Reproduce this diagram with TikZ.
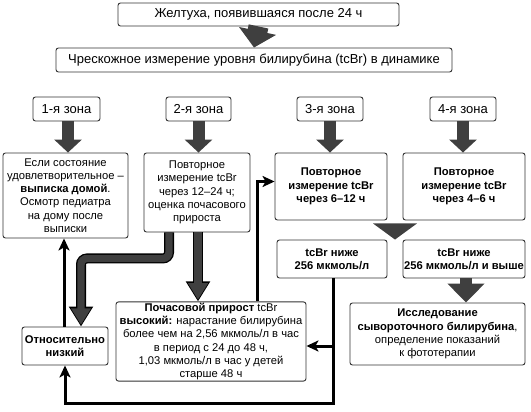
\documentclass[tikz,border=0pt]{standalone}
\usepackage{fontspec}
\setmainfont{Liberation Sans}
\usetikzlibrary{arrows.meta,calc}

\definecolor{arrowgray}{HTML}{3F3F3F}
\definecolor{boxline}{HTML}{333333}

\tikzset{
  box/.style={draw=boxline, line width=0.9pt, rounded corners=2.5pt, fill=white,
    align=center, inner sep=1pt, font=\fontsize{11.2}{13.3}\selectfont},
  bigbox/.style={box, font=\fontsize{13}{15}\selectfont},
  boldbox/.style={box, font=\fontsize{11.2}{13.3}\selectfont\bfseries},
  fatbig/.style={draw=arrowgray, line width=20pt,
    -{Triangle[width=37pt,length=17pt]}},
  fat/.style={draw=arrowgray, line width=12pt,
    -{Triangle[width=27pt,length=13pt]}},
  pipeout/.style={draw=black, line width=10pt, rounded corners=6pt,
    -{Triangle[width=23pt,length=20pt]}},
  pipein/.style={draw=arrowgray, line width=7.4pt, rounded corners=6pt,
    shorten >=1.8pt, -{Triangle[width=19pt,length=16.5pt]}},
  thin/.style={draw=black, line width=3pt,
    -{Stealth[length=12pt,width=11pt,inset=3pt]}}
}

\begin{document}
\begin{tikzpicture}[x=1pt, y=-1pt]
  \useasboundingbox (0,0) rectangle (531,412);

      %% top of the chart
      \node (Jaundice) [bigbox, minimum width=281pt, minimum height=23pt] at (258.5,14.5)
        {Желтуха, появившаяся после 24 ч};
      \node (Measure) [bigbox, minimum width=396pt, minimum height=24pt] at (254,60)
        {Чрескожное измерение уровня билирубина (tcBr) в динамике};

      %% zones
      \node (ZoneA) [bigbox, minimum width=67pt, minimum height=24pt] at (66.5,109) {1-я зона};
      \node (ZoneB) [bigbox, minimum width=65pt, minimum height=24pt] at (198.5,109) {2-я зона};
      \node (ZoneC) [bigbox, minimum width=66pt, minimum height=24pt] at (330,109) {3-я зона};
      \node (ZoneD) [bigbox, minimum width=66pt, minimum height=24pt] at (463,109) {4-я зона};

      %% actions
      \node (Home) [box, minimum width=125pt, minimum height=85pt] at (65.5,195.5)
        {Если состояние\\ удовлетворительное –\\ \textbf{выписка домой}.\\
         Осмотр педиатра\\ на дому после\\ выписки};
      \node (RepeatB) [box, minimum width=106pt, minimum height=79pt] at (197,192.5)
        {Повторное\\ измерение tcBr\\ через 12–24 ч;\\ оценка почасового\\ прироста};
      \node (RepeatC) [boldbox, minimum width=112pt, minimum height=67pt] at (331,186.5)
        {Повторное\\ измерение tcBr\\ через 6–12 ч};
      \node (RepeatD) [boldbox, minimum width=122pt, minimum height=67pt] at (464,186.5)
        {Повторное\\ измерение tcBr\\ через 4–6 ч};

      %% results
      \node (Below) [boldbox, minimum width=110pt, minimum height=38pt] at (332,259)
        {tcBr ниже\\ 256 мкмоль/л};
      \node (Above) [boldbox, minimum width=122pt, minimum height=38pt] at (464,259)
        {tcBr ниже\\ 256 мкмоль/л и выше};
      \node (Serum) [box, minimum width=175pt, minimum height=62pt] at (437.5,334)
        {\textbf{Исследование}\\ \textbf{сывороточного билирубина},\\
         определение показаний\\ к фототерапии};
      \node (Rate) [box, minimum width=190pt, minimum height=77pt] at (211,341.5)
        {\textbf{Почасовой прирост} tcBr\\ \textbf{высокий:} нарастание билирубина\\
         более чем на 2,56 мкмоль/л в час\\ в период с 24 до 48 ч,\\
         1,03 мкмоль/л в час у детей\\ старше 48 ч};
      \node (Low) [boldbox, minimum width=86pt, minimum height=38pt] at (65,346)
        {Относительно\\ низкий};

      %% fat arrows
      \draw[fatbig] (Jaundice.south) -- (Measure.north);
      \draw[fat] ([xshift=1.5pt]ZoneA.south) -- ([xshift=1.5pt]ZoneA.south |- Home.north);
      \draw[fat] (ZoneB.south) -- (ZoneB.south |- RepeatB.north);
      \draw[fat] (ZoneC.south) -- (ZoneC.south |- RepeatC.north);
      \draw[fat] (ZoneD.south) -- (ZoneD.south |- RepeatD.north);
      \draw[fat, line width=12pt, -{Triangle[width=36pt,length=19pt]}]
        ([xshift=2pt]Above.south) -- ([xshift=2pt]Above.south |- Serum.north);

      \coordinate (Gap) at ($(RepeatC.south east)!.5!(RepeatD.south west)$);
      \coordinate (GapTip) at ($(Below.north east)!.5!(Above.north west)$);
      \fill[arrowgray] ([shift={(-22pt,-3pt)}]Gap) -- ([shift={(22pt,-3pt)}]Gap) -- (GapTip) -- cycle;

      %% outlined arrows out of zone 2
      \draw[pipeout] ([xshift=1pt]RepeatB.south) -- ([xshift=1pt]RepeatB.south |- Rate.north);
      \draw[pipein] ([xshift=1pt]RepeatB.south) -- ([xshift=1pt]RepeatB.south |- Rate.north);
      \draw[pipeout] ([xshift=-28pt]RepeatB.south) -- ++(0,26) -| ([xshift=16pt]Low.north);
      \draw[pipein] ([xshift=-28pt]RepeatB.south) -- ++(0,26) -| ([xshift=16pt]Low.north);

      %% thin arrows
      \draw[thin] ([xshift=-1pt]Low.north) -- ([xshift=-1pt]Low.north |- Home.south);
      \draw[thin] ([xshift=1pt]Below.south) |- ([yshift=-38pt]Low.south) -- (Low.south);
      \coordinate (Branch) at ([yshift=-4.5pt]Rate.east);
      \draw[thin] ([xshift=1pt]Below.south |- Branch) -- (Branch);
      \draw[thin] ([xshift=-49pt]Rate.north east) |- ([yshift=5pt]RepeatC.west);

\end{tikzpicture}
\end{document}
